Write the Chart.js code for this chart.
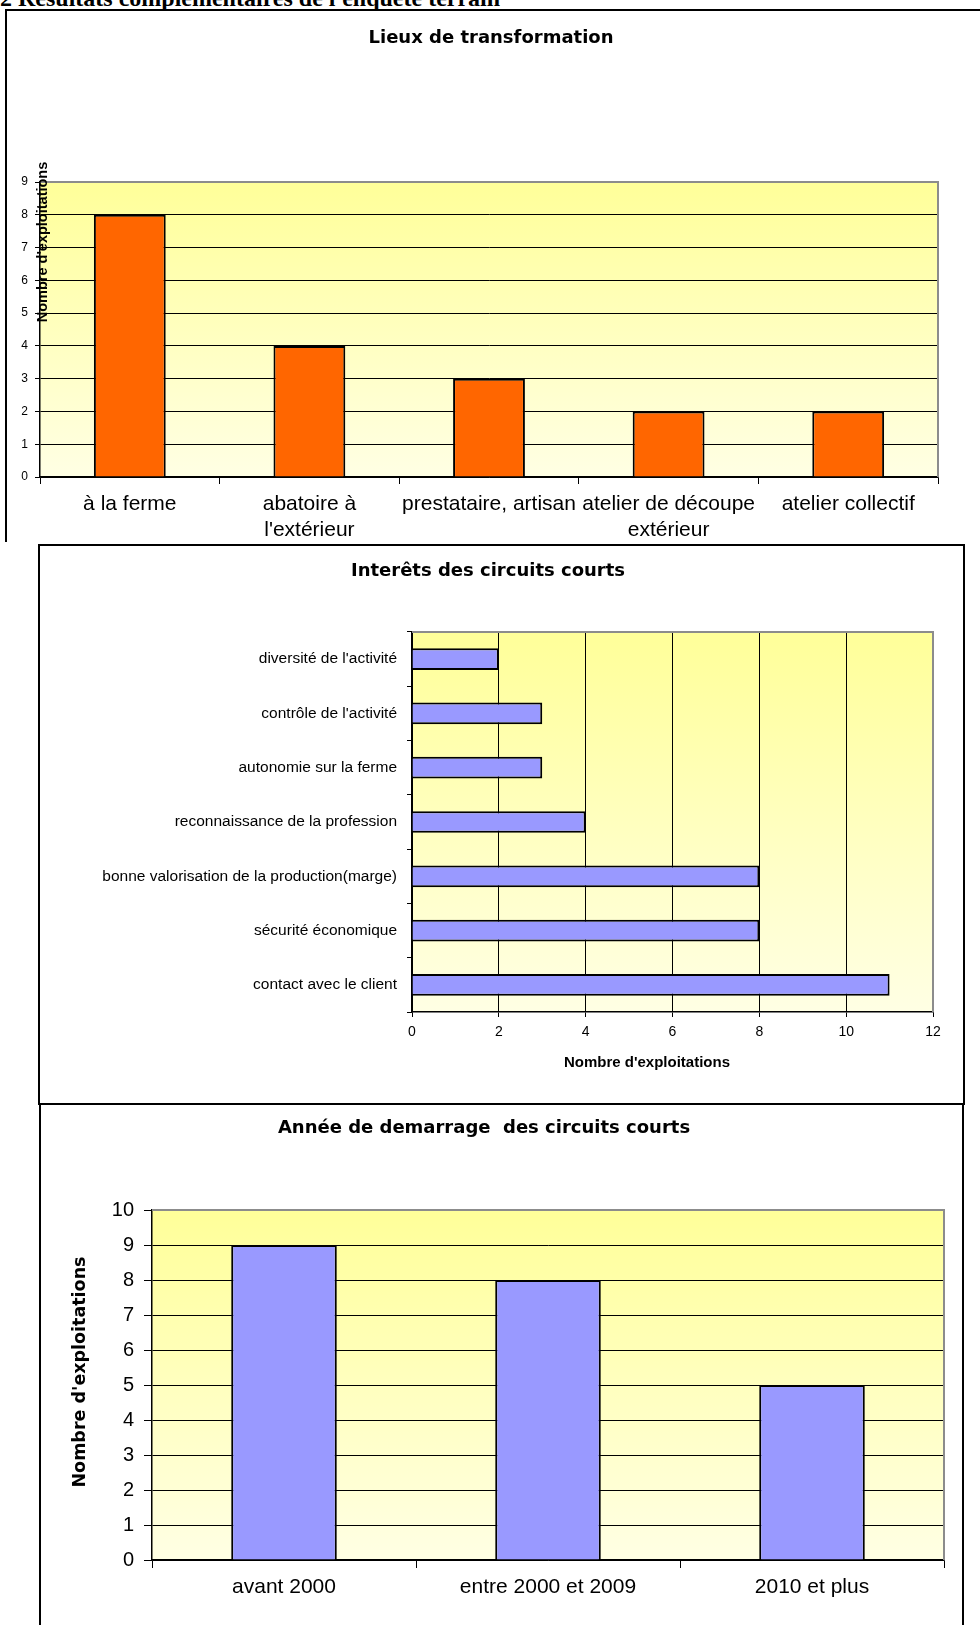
<!DOCTYPE html>
<html lang="fr">
<head>
<meta charset="utf-8">
<title>Résultats complémentaires de l'enquête terrain</title>
<script src="https://cdn.jsdelivr.net/npm/chart.js@4.4.1/dist/chart.umd.min.js"></script>
<style>
  html, body { margin: 0; padding: 0; background: #fff; }
  body { position: relative; width: 980px; height: 1625px; overflow: hidden; font-family: "Liberation Sans", Arial, sans-serif; }
  .abs { position: absolute; }
  .heading { left: 0; top: -14px; font: bold 24px/24px "Liberation Serif", "Times New Roman", serif; white-space: nowrap; }
  .frame { position: absolute; border: 2px solid #000; box-sizing: border-box; }
  .title { width: 600px; font: bold 18px/22px "DejaVu Sans", Verdana, sans-serif; text-align: center; white-space: pre; color: #000; }
  .ytitle { font: bold 14.5px/16px "Liberation Sans", Arial, sans-serif; text-align: center; transform: rotate(-90deg); white-space: nowrap; }
  .ytitle.big { font: bold 17.5px/20px "DejaVu Sans", Verdana, sans-serif; }
  .xtitle { font: bold 15px/18px "Liberation Sans", Arial, sans-serif; text-align: center; white-space: nowrap; }
</style>
</head>
<body>
<div class="abs heading">2 Résultats complémentaires de l'enquête terrain</div>

<div class="frame" style="left:5px; top:9px; width:990px; height:533px; border-right:none; border-bottom:none;"></div>
<div class="frame" style="left:38px; top:544px; width:927px; height:561px;"></div>
<div class="frame" style="left:39px; top:1103px; width:925px; height:540px;"></div>

<div class="abs" style="left:0; top:10px; width:980px; height:530px;"><canvas id="lieux"></canvas></div>
<div class="abs title" style="left:191px; top:26px;">Lieux de transformation</div>
<div class="abs ytitle" style="left:-43px; top:234px; width:170px;">Nombre d'exploitations</div>

<div class="abs" style="left:39px; top:545px; width:925px; height:558px;"><canvas id="interets"></canvas></div>
<div class="abs title" style="left:188px; top:559px;">Interêts des circuits courts</div>
<div class="abs xtitle" style="left:497px; top:1053px; width:300px;">Nombre d'exploitations</div>

<div class="abs" style="left:40px; top:1103px; width:923px; height:522px;"><canvas id="demarrage"></canvas></div>
<div class="abs title" style="left:184px; top:1116px;">Année de demarrage  des circuits courts</div>
<div class="abs ytitle big" style="left:-51px; top:1362px; width:260px;">Nombre d'exploitations</div>

<script>
// DATA
const lieuxLabels = ["à la ferme", ["abatoire à", "l'extérieur"], "prestataire, artisan", ["atelier de découpe", "extérieur"], "atelier collectif"];
const lieuxValues = [8, 4, 3, 2, 2];

const interetsLabels = [
  "diversité de l'activité",
  "contrôle de l'activité",
  "autonomie sur la ferme",
  "reconnaissance de la profession",
  "bonne valorisation de la production(marge)",
  "sécurité économique",
  "contact avec le client",
];
const interetsValues = [2, 3, 3, 4, 8, 8, 11];

const demarrageLabels = ["avant 2000", "entre 2000 et 2009", "2010 et plus"];
const demarrageValues = [9, 8, 5];

const FONT = "'Liberation Sans', Arial, sans-serif";

// yellow plot background + grey top/right edge, like the Excel charts
const plotFrame = {
  id: "plotFrame",
  beforeDraw(chart) {
    const { ctx, chartArea: a } = chart;
    const g = ctx.createLinearGradient(0, a.top, 0, a.bottom);
    g.addColorStop(0, "#ffff99");
    g.addColorStop(1, "#ffffe4");
    ctx.save();
    ctx.fillStyle = g;
    ctx.fillRect(a.left, a.top, a.right - a.left, a.bottom - a.top);
    ctx.restore();
  },
  afterDraw(chart) {
    const { ctx, chartArea: a } = chart;
    ctx.save();
    ctx.strokeStyle = "#8c8c8c";
    ctx.lineWidth = 2;
    ctx.beginPath();
    ctx.moveTo(a.left, a.top);
    ctx.lineTo(a.right, a.top);
    ctx.lineTo(a.right, a.bottom);
    ctx.stroke();
    ctx.restore();
  },
};

Chart.defaults.font.family = FONT;
Chart.defaults.color = "#000";

// CHART 1 : LIEUX DE TRANSFORMATION
new Chart(document.getElementById("lieux"), {
  type: "bar",
  data: {
    labels: lieuxLabels,
    datasets: [{
      data: lieuxValues,
      backgroundColor: "#ff6600",
      borderColor: "#000",
      borderWidth: 2,
      barPercentage: 0.4,
      categoryPercentage: 1,
    }],
  },
  plugins: [plotFrame],
  options: {
    animation: false,
    responsive: true,
    maintainAspectRatio: false,
    layout: { padding: { left: 0, right: 42, top: 172, bottom: 0 } },
    plugins: {
      legend: { display: false },
      tooltip: { enabled: false },
    },
    scales: {
      x: {
        afterFit: (s) => { s.height = 63; },
        grid: { display: true, drawOnChartArea: false, offset: true, color: "#000", tickLength: 7 },
        border: { color: "#000", width: 1.5 },
        ticks: { font: { size: 21 }, padding: 8, maxRotation: 0, autoSkip: false },
      },
      y: {
        min: 0,
        max: 9,
        afterFit: (s) => { s.width = 40; },
        grid: { color: "#000", lineWidth: 1, tickLength: 5 },
        border: { color: "#000", width: 1.5 },
        ticks: { stepSize: 1, font: { size: 12 }, padding: 7 },
      },
    },
  },
});

// CHART 2 : INTERETS DES CIRCUITS COURTS
new Chart(document.getElementById("interets"), {
  type: "bar",
  data: {
    labels: interetsLabels,
    datasets: [{
      data: interetsValues,
      backgroundColor: "#9999ff",
      borderColor: "#000",
      borderWidth: 2,
      barPercentage: 0.4,
      categoryPercentage: 1,
    }],
  },
  plugins: [plotFrame],
  options: {
    indexAxis: "y",
    animation: false,
    responsive: true,
    maintainAspectRatio: false,
    layout: { padding: { left: 0, right: 31, top: 87, bottom: 0 } },
    plugins: {
      legend: { display: false },
      tooltip: { enabled: false },
    },
    scales: {
      x: {
        min: 0,
        max: 12,
        afterFit: (s) => { s.height = 91; },
        grid: { color: "#000", lineWidth: 1, tickLength: 5 },
        border: { color: "#000", width: 1.5 },
        ticks: { stepSize: 2, font: { size: 14 }, padding: 7 },
      },
      y: {
        afterFit: (s) => { s.width = 373; },
        grid: { display: true, drawOnChartArea: false, offset: true, color: "#000", tickLength: 5 },
        border: { color: "#000", width: 1.5 },
        ticks: { font: { size: 15.5 }, padding: 10, autoSkip: false },
      },
    },
  },
});

// CHART 3 : ANNEE DE DEMARRAGE
new Chart(document.getElementById("demarrage"), {
  type: "bar",
  data: {
    labels: demarrageLabels,
    datasets: [{
      data: demarrageValues,
      backgroundColor: "#9999ff",
      borderColor: "#000",
      borderWidth: 2,
      barPercentage: 0.4,
      categoryPercentage: 1,
    }],
  },
  plugins: [plotFrame],
  options: {
    animation: false,
    responsive: true,
    maintainAspectRatio: false,
    layout: { padding: { left: 0, right: 19, top: 107, bottom: 0 } },
    plugins: {
      legend: { display: false },
      tooltip: { enabled: false },
    },
    scales: {
      x: {
        afterFit: (s) => { s.height = 65; },
        grid: { display: true, drawOnChartArea: false, offset: true, color: "#000", tickLength: 8 },
        border: { color: "#000", width: 1.5 },
        ticks: { font: { size: 21 }, padding: 7, maxRotation: 0, autoSkip: false },
      },
      y: {
        min: 0,
        max: 10,
        afterFit: (s) => { s.width = 112; },
        grid: { color: "#000", lineWidth: 1, tickLength: 8 },
        border: { color: "#000", width: 1.5 },
        ticks: { stepSize: 1, font: { size: 20 }, padding: 10 },
      },
    },
  },
});
</script>
</body>
</html>
